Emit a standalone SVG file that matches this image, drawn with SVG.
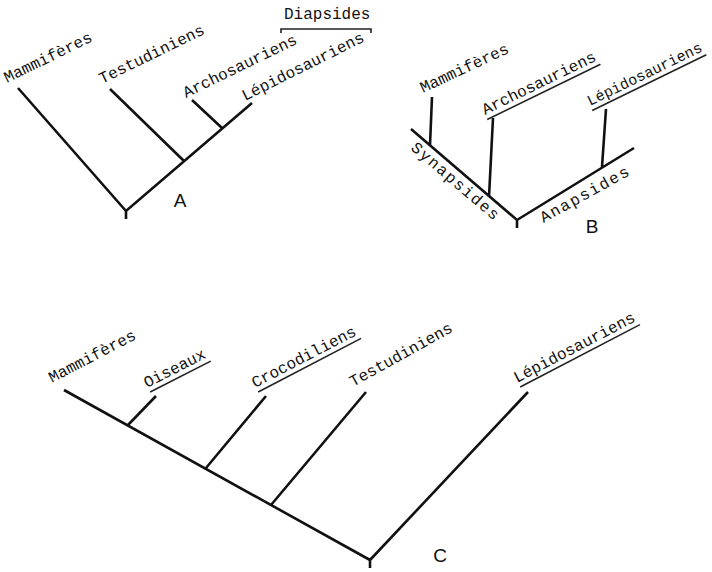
<svg xmlns="http://www.w3.org/2000/svg" width="712" height="572" viewBox="0 0 712 572">
  <style>
    .br { stroke: #111; stroke-width: 2.6; fill: none; stroke-linecap: butt; }
    .ul { stroke: #222; stroke-width: 1.6; fill: none; }
    .tx { font-family: "Liberation Mono", "DejaVu Sans Mono", monospace; font-size: 16px; fill: #111; }
    .wide { letter-spacing: 1.6px; }
    .pn { font-family: "Liberation Sans", Arial, sans-serif; font-size: 19px; fill: #111; }
  </style>
  <rect width="712" height="572" fill="#fff"/>

  <!-- Tree branches -->
  <g id="connectors">
    <!-- A -->
    <path class="br" d="M18 88 L126 211 L252 103 M126 211 V219 M110 89 L184 161 M192 100 L222 128"/>
    <path class="ul" d="M281 33 V29 H371 V33"/>
    <!-- B -->
    <path class="br" d="M411 129 L517 220 L634 148 M517 220 V228 M432 97 L430 145 M493 118 L489 197 M606 109 L602 167"/>
    <!-- C -->
    <path class="br" d="M64 390 L370 560 L528 392 M370 560 V568 M156 396 L128 425 M266 396 L206 468 M366 392 L271 505"/>
  </g>

  <!-- Panel A -->
  <g id="a-mammiferes"><text class="tx" transform="translate(7 83) rotate(-26)">Mammifères</text></g>
  <g id="a-testudiniens"><text class="tx" transform="translate(102 84) rotate(-26)">Testudiniens</text></g>
  <g id="a-archosauriens"><text class="tx" transform="translate(186 98) rotate(-26)">Archosauriens</text></g>
  <g id="a-lepidosauriens"><text class="tx" transform="translate(245 101) rotate(-26.5)">Lépidosauriens</text></g>
  <g id="a-diapsides"><text class="tx" x="284" y="19">Diapsides</text></g>
  <g id="label-a"><text class="pn" x="180" y="207" text-anchor="middle">A</text></g>

  <!-- Panel B -->
  <g id="b-mammiferes"><text class="tx" transform="translate(423 93) rotate(-25)">Mammifères</text></g>
  <g id="b-archosauriens" transform="translate(485 115) rotate(-26)">
    <text class="tx">Archosauriens</text>
    <line class="ul" x1="0" y1="5" x2="126" y2="5"/>
  </g>
  <g id="b-lepidosauriens" transform="translate(590 106) rotate(-26)">
    <text class="tx" style="font-size:15px">Lépidosauriens</text>
    <line class="ul" x1="0" y1="5" x2="127" y2="5"/>
  </g>
  <g id="b-synapsides"><text class="tx wide" transform="translate(410 149) rotate(40.6)">Synapsides</text></g>
  <g id="b-anapsides"><text class="tx wide" transform="translate(543.5 223) rotate(-29)">Anapsides</text></g>
  <g id="label-b"><text class="pn" x="592" y="233" text-anchor="middle">B</text></g>

  <!-- Panel C -->
  <g id="c-mammiferes"><text class="tx" transform="translate(52 383) rotate(-27.6)">Mammifères</text></g>
  <g id="c-oiseaux" transform="translate(147 388) rotate(-27)">
    <text class="tx">Oiseaux</text>
    <line class="ul" x1="1" y1="5" x2="69" y2="5"/>
  </g>
  <g id="c-crocodiliens" transform="translate(255 388) rotate(-27.5)">
    <text class="tx">Crocodiliens</text>
    <line class="ul" x1="1" y1="5" x2="117" y2="5"/>
  </g>
  <g id="c-testudiniens"><text class="tx" transform="translate(353 387) rotate(-29)">Testudiniens</text></g>
  <g id="c-lepidosauriens" transform="translate(517 383) rotate(-27.5)">
    <text class="tx">Lépidosauriens</text>
    <line class="ul" x1="1" y1="5" x2="136" y2="5"/>
  </g>
  <g id="label-c"><text class="pn" x="440" y="562" text-anchor="middle">C</text></g>
</svg>
